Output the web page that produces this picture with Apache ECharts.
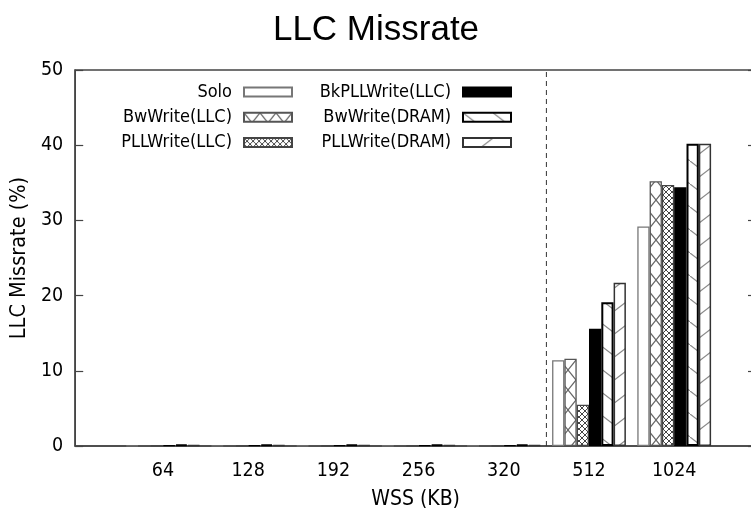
<!DOCTYPE html>
<html>
<head>
<meta charset="utf-8">
<script src="https://cdn.jsdelivr.net/npm/echarts@6/dist/echarts.min.js"></script>
<style>
html,body{margin:0;padding:0;background:#fff;overflow:hidden;}
#chart{width:760px;height:518px;}
</style>
</head>
<body>
<div id="chart"></div>
<script>
// ---- data ----
const categories = ['64', '128', '192', '256', '320', '512', '1024'];
const seriesNames = ['Solo', 'BwWrite(LLC)', 'PLLWrite(LLC)', 'BkPLLWrite(LLC)', 'BwWrite(DRAM)', 'PLLWrite(DRAM)'];
const solo         = [0.05, 0.05, 0.05, 0.05, 0.05, 11.4, 29.2];
const bwWriteLLC   = [0.05, 0.05, 0.05, 0.05, 0.05, 11.6, 35.2];
const pllWriteLLC  = [0.05, 0.05, 0.05, 0.05, 0.05, 5.5, 34.7];
const bkPllWriteLLC= [0.1, 0.1, 0.1, 0.1, 0.1, 15.6, 34.4];
const bwWriteDRAM  = [0.2, 0.2, 0.2, 0.2, 0.2, 19.1, 40.2];
const pllWriteDRAM = [0.1, 0.1, 0.1, 0.1, 0.1, 21.7, 40.2];
const yMin = 0, yMax = 50, yStep = 10;
const dividerAt = 4.5; // between 320 and 512

// ---- styling helpers ----
function makePattern(w, h, draw) {
  const c = document.createElement('canvas');
  c.width = w; c.height = h;
  const ctx = c.getContext('2d');
  ctx.fillStyle = '#ffffff';
  ctx.fillRect(0, 0, w, h);
  draw(ctx, w, h);
  return { image: c, repeat: 'repeat' };
}
function diag(ctx, w, h, dir) {
  ctx.beginPath();
  if (dir > 0) { ctx.moveTo(-w, -h); ctx.lineTo(2 * w, 2 * h); }
  else { ctx.moveTo(2 * w, -h); ctx.lineTo(-w, 2 * h); }
  ctx.stroke();
}
const patCross = makePattern(16, 20, (ctx, w, h) => {
  ctx.strokeStyle = '#666'; ctx.lineWidth = 1.2;
  diag(ctx, w, h, 1); diag(ctx, w, h, -1);
});
const patDense = makePattern(6, 6, (ctx, w, h) => {
  ctx.strokeStyle = '#444'; ctx.lineWidth = 1;
  diag(ctx, w, h, 1); diag(ctx, w, h, -1);
});
const patBack = makePattern(30, 23, (ctx, w, h) => {
  ctx.strokeStyle = '#888'; ctx.lineWidth = 1.2;
  diag(ctx, w, h, 1);
});
const patFwd = makePattern(30, 23, (ctx, w, h) => {
  ctx.strokeStyle = '#888'; ctx.lineWidth = 1.2;
  diag(ctx, w, h, -1);
});

const styles = [
  { color: '#ffffff', borderColor: '#777', borderWidth: 1.3 },
  { color: patCross, borderColor: '#555', borderWidth: 1.3 },
  { color: patDense, borderColor: '#444', borderWidth: 1.3 },
  { color: '#000000', borderColor: '#000', borderWidth: 1.3 },
  { color: patBack, borderColor: '#000', borderWidth: 2 },
  { color: patFwd, borderColor: '#333', borderWidth: 1.5 }
];
const values = [solo, bwWriteLLC, pllWriteLLC, bkPllWriteLLC, bwWriteDRAM, pllWriteDRAM];

const FONT = "'DejaVu Sans Condensed', 'DejaVu Sans', sans-serif";

const series = values.map((arr, k) => ({
  name: seriesNames[k],
  type: 'bar',
  data: arr.map((v, i) => [i, v]),
  barWidth: 12.3,
  barGap: '0%',
  itemStyle: styles[k],
  emphasis: { disabled: true },
  animation: false,
  silent: true
}));
series.push({
  name: 'divider',
  type: 'line',
  data: [[dividerAt, yMin], [dividerAt, yMax]],
  symbol: 'none',
  silent: true,
  animation: false,
  lineStyle: { color: '#333', type: [5, 4], width: 1 },
  z: 1
});

const legendCommon = {
  orient: 'vertical',
  align: 'right',
  icon: 'rect',
  itemWidth: 48,
  itemHeight: 9,
  itemGap: 7.3,
  padding: 0,
  selectedMode: false,
  textStyle: { fontFamily: FONT, fontSize: 18, color: '#000', lineHeight: 16, padding: [0, 7, 0, 0] }
};

const chart = echarts.init(document.getElementById('chart'), null, { renderer: 'canvas' });
chart.setOption({
  animation: false,
  backgroundColor: '#ffffff',
  title: {
    text: 'LLC Missrate',
    left: 371,
    textAlign: 'center',
    top: 8,
    textStyle: { fontFamily: "'Liberation Sans', Arial, sans-serif", fontSize: 35, fontWeight: 'normal', color: '#000' }
  },
  legend: [
    Object.assign({}, legendCommon, { data: seriesNames.slice(0, 3), right: 467, top: 83 }),
    Object.assign({}, legendCommon, { data: seriesNames.slice(3), right: 248, top: 83 })
  ],
  grid: {
    left: 75, top: 70, right: 4, bottom: 72,
    show: true, borderColor: '#444', borderWidth: 1.5, backgroundColor: 'transparent'
  },
  xAxis: {
    type: 'value',
    min: -1.03,
    max: 6.96,
    name: 'WSS (KB)',
    nameLocation: 'middle',
    nameGap: 43,
    nameTextStyle: { fontFamily: FONT, fontSize: 21, color: '#000' },
    axisLine: { show: true, onZero: false, lineStyle: { color: '#444', width: 1.5 } },
    axisTick: { show: false },
    splitLine: { show: false },
    axisLabel: {
      customValues: categories.map((c, i) => i),
      formatter: v => categories[Math.round(v)],
      fontFamily: FONT, fontSize: 19.5, color: '#000', margin: 15
    }
  },
  yAxis: [
    {
      type: 'value', min: yMin, max: yMax, interval: yStep,
      name: 'LLC Missrate (%)',
      nameLocation: 'middle',
      nameGap: 31,
      nameTextStyle: { fontFamily: FONT, fontSize: 21.5, color: '#000' },
      axisLine: { show: true, onZero: false, lineStyle: { color: '#444', width: 1.5 } },
      axisTick: { show: true, inside: true, length: 8, lineStyle: { color: '#444', width: 1.2 } },
      splitLine: { show: false },
      axisLabel: { fontFamily: FONT, fontSize: 19.5, color: '#000', margin: 12 }
    },
    {
      type: 'value', min: yMin, max: yMax, interval: yStep, position: 'right',
      axisLine: { show: true, onZero: false, lineStyle: { color: '#444', width: 1.5 } },
      axisTick: { show: true, inside: true, length: 8, lineStyle: { color: '#444', width: 1.2 } },
      splitLine: { show: false },
      axisLabel: { show: false }
    }
  ],
  series: series
});
</script>
</body>
</html>
